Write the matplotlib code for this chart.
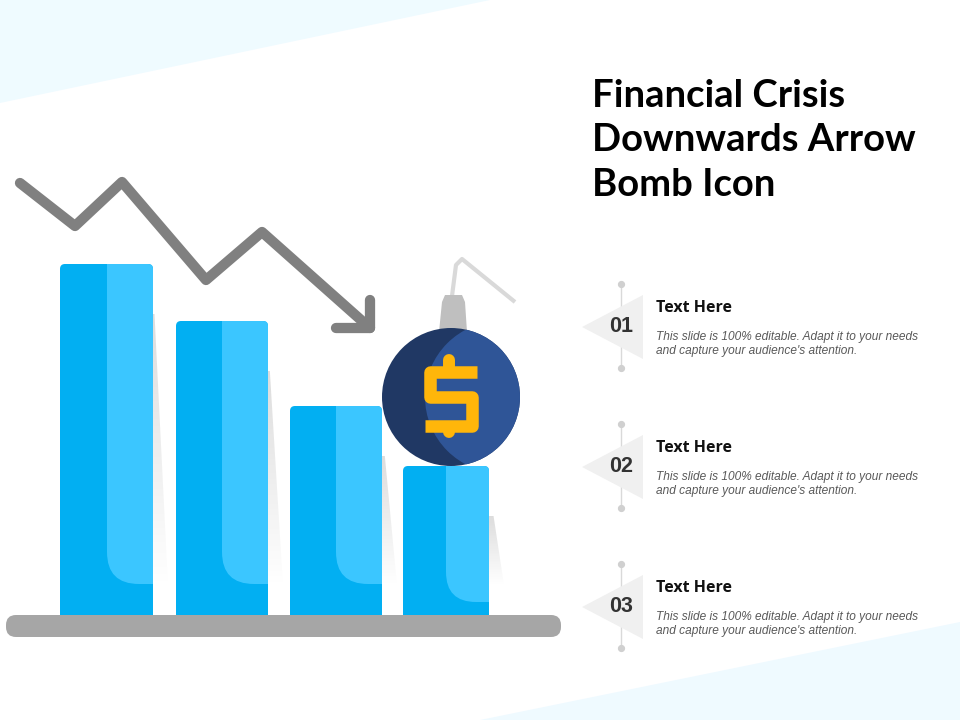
import numpy as np
import matplotlib
matplotlib.use('Agg')
import matplotlib.pyplot as plt
from matplotlib.patches import Polygon, Circle, PathPatch, FancyBboxPatch
from matplotlib.path import Path

bar_lefts = [60, 176, 290, 403]
bar_rights = [153, 268, 382, 489]
bar_tops = [264, 321, 406, 466]
light_lefts = [107, 222, 336, 446]
light_bottoms = [584, 584, 584, 602]
light_radius = [32, 32, 32, 30]
baseline = 615
arrow_x = [20, 75, 122, 206, 262, 370]
arrow_y = [183, 226, 182, 280, 232, 328]
title_lines = ['Financial Crisis', 'Downwards Arrow', 'Bomb Icon']
title_y = [96, 140, 185]
step_nums = ['01', '02', '03']
step_y = [327, 467, 607]
head = 'Text Here'
body = ["This slide is 100% editable. Adapt it to your needs",
        "and capture your audience's attention."]

fig = plt.figure(figsize=(9.6, 7.2), dpi=100)
ax = fig.add_axes([0, 0, 1, 1])
ax.axis('off')


def rounded(x0, y0, x1, y1, tl=0, tr=0, br=0, bl=0):
    v = [(x0 + tl, y0), (x1 - tr, y0), (x1, y0), (x1, y0 + tr), (x1, y1 - br), (x1, y1), (x1 - br, y1),
         (x0 + bl, y1), (x0, y1), (x0, y1 - bl), (x0, y0 + tl), (x0, y0), (x0 + tl, y0), (x0 + tl, y0)]
    c = [Path.MOVETO, Path.LINETO, Path.CURVE3, Path.CURVE3, Path.LINETO, Path.CURVE3, Path.CURVE3,
         Path.LINETO, Path.CURVE3, Path.CURVE3, Path.LINETO, Path.CURVE3, Path.CURVE3, Path.CLOSEPOLY]
    return Path(v, c)


# background corners
ax.add_patch(Polygon([(0, 0), (490, 0), (0, 103)], fc='#effbff', ec='none', zorder=0))
ax.add_patch(Polygon([(480, 720), (960, 622), (960, 720)], fc='#effaff', ec='none', zorder=0))

# fading shadows right of the bars
rgba = np.zeros((256, 1, 4))
rgba[..., :3] = 0.55
rgba[:, 0, 3] = np.linspace(0.30, 0, 256)
for r, t in zip(bar_rights, bar_tops):
    im = ax.imshow(rgba, extent=[r, r + 15, baseline - 30, t + 50], aspect='auto', zorder=1)
    p = Polygon([(r, t + 20), (r + 15, baseline - 30), (r, baseline - 30)], fc='none', ec='none',
                transform=ax.transData)
    ax.add_patch(p)
    im.set_clip_path(p)
ax.set_xlim(0, 960)
ax.set_ylim(720, 0)

# floor
ax.add_patch(FancyBboxPatch((6, 615), 555, 22, boxstyle='round,pad=0,rounding_size=10',
                            fc='#a6a6a6', ec='none', zorder=2))

# bars
for l, r, t, ll, lb, rad in zip(bar_lefts, bar_rights, bar_tops, light_lefts, light_bottoms, light_radius):
    b = ax.bar(l, baseline - t, width=r - l, bottom=t, align='edge', color='#02aff2', zorder=3)[0]
    b.set_clip_path(PathPatch(rounded(l, t, r, baseline, tl=5, tr=5), transform=ax.transData))
    b2 = ax.bar(ll, lb - t, width=r - ll, bottom=t, align='edge', color='#3bc6ff', zorder=4)[0]
    b2.set_clip_path(PathPatch(rounded(ll, t, r, lb, tr=5, bl=rad), transform=ax.transData))

# arrow
ax.plot(arrow_x, arrow_y, color='#808080', lw=7.4, solid_capstyle='round', solid_joinstyle='round', zorder=5)
ax.plot([370, 370, 336], [300, 328, 328], color='#808080', lw=7.4, solid_capstyle='round',
        solid_joinstyle='round', zorder=5)

# fuse and cap
ax.plot([452, 456, 462, 515], [296, 265, 259, 302], color='#d9d9d9', lw=3, zorder=5,
        solid_joinstyle='round', solid_capstyle='butt')
ax.add_patch(Polygon([(439, 332), (442, 302), (445, 295), (462, 295), (465, 302), (467, 332)],
                     fc='#bfbfbf', ec='none', zorder=5))

# bomb
cx, cy, R = 451, 397, 69
ax.add_patch(Circle((cx, cy), R, fc='#203864', ec='none', zorder=6))
body_c = Circle((cx, cy), R, transform=ax.transData)
lite = Circle((cx + 50, cy), 76, fc='#2f5597', ec='none', zorder=7)
ax.add_patch(lite)
lite.set_clip_path(body_c)

# dollar sign
ax.plot([477, 430, 430, 472, 472, 425], [372, 372, 397, 397, 426, 426],
        color='#ffb60a', lw=9, solid_joinstyle='round', solid_capstyle='butt', zorder=8)
ax.plot([449, 449], [360, 368], color='#ffb60a', lw=8.6, solid_capstyle='round', zorder=8)
ax.plot([449, 449], [430, 432], color='#ffb60a', lw=8.6, solid_capstyle='round', zorder=8)

# title
for s, y in zip(title_lines, title_y):
    ax.text(592, y, s, fontsize=27.5, fontweight='bold', family='Lato', color='#000000',
            va='center', ha='left', zorder=9)

# steps
for n, y in zip(step_nums, step_y):
    ax.plot([621, 621], [y - 43, y + 41], color='#d9d9d9', lw=1, zorder=2)
    ax.plot([621, 621], [y - 43, y + 41], ls='none', marker='o', ms=4.2, color='#d0d0d0', zorder=2)
    ax.add_patch(Polygon([(582, y), (643, y - 32), (643, y + 32)], fc='#f0f0f0', ec='none', zorder=3))
    ax.text(621, y, n, fontsize=15.5, fontweight='bold', family='Liberation Sans', color='#333333',
            ha='center', va='center', zorder=4)
    ax.text(656, y - 18.5, head, fontsize=11.5, fontweight='bold', family='Open Sans', color='#111111',
            va='center', zorder=4)
    ax.text(656, y + 10, body[0], fontsize=8.6, style='italic', family='Liberation Sans', color='#595959',
            va='center', zorder=4)
    ax.text(656, y + 24, body[1], fontsize=8.6, style='italic', family='Liberation Sans', color='#595959',
            va='center', zorder=4)

fig.savefig('out.png', dpi=100)
